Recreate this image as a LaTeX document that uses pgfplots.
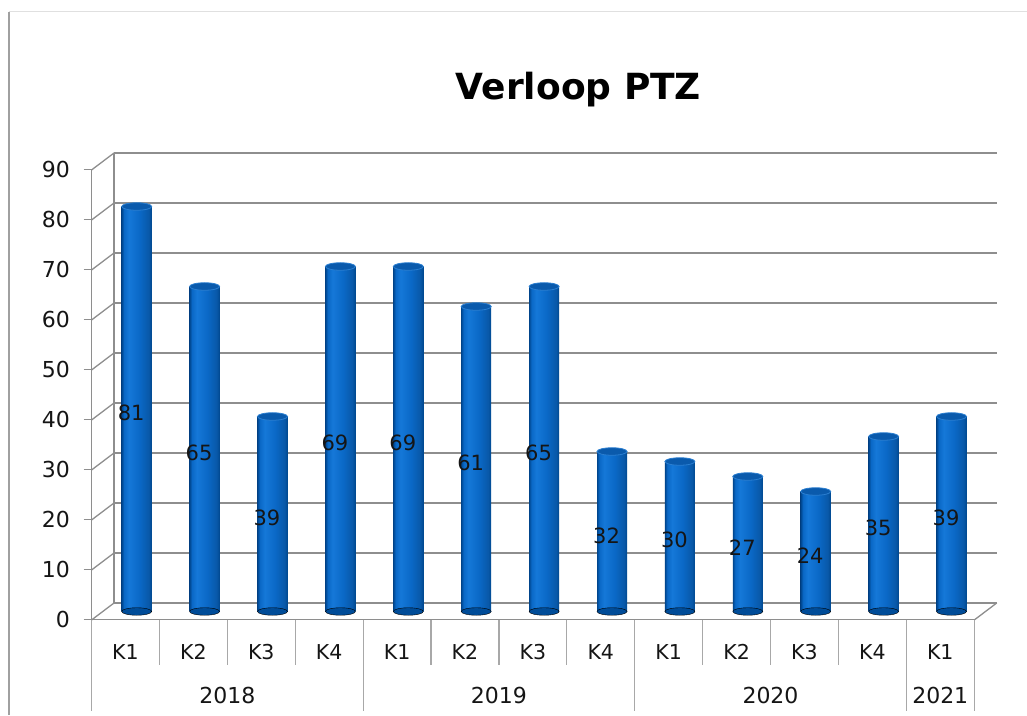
\documentclass[border=0pt]{standalone}
\usepackage{fontspec}
\setmainfont{DejaVu Sans}
\usepackage{pgfplots}
\pgfplotsset{compat=1.18}
\definecolor{gridc}{HTML}{8E8E8E}
\definecolor{sepc}{HTML}{A8A8A8}
\definecolor{bordL}{HTML}{A0A0A0}
\definecolor{bordT}{HTML}{E0E0E0}
\definecolor{bdark}{HTML}{00468E}
\definecolor{blight}{HTML}{1578D8}
\definecolor{bmid}{HTML}{0A68C6}
\definecolor{bdeep}{HTML}{00488F}
\definecolor{btop}{HTML}{0A5AAC}
\definecolor{brim}{HTML}{2A7ED0}
\definecolor{bbot}{HTML}{004C98}
\definecolor{lab}{HTML}{151515}
\pgfdeclarehorizontalshading{cyl}{100bp}{color(0bp)=(bdark); color(25bp)=(bdark); color(29bp)=(bmid); color(37bp)=(blight); color(55bp)=(bmid); color(70bp)=(bmid!85!black); color(75bp)=(bdeep); color(100bp)=(bdeep)}
\pgfplotsset{cmn/.style={scale only axis, width=882.7pt, height=450pt,
  xmin=-0.5, xmax=12.5, ymin=0, ymax=90, anchor=south west, clip=false},
  cylbar/.style={ybar, bar width=30pt, draw=none, shade, shading=cyl}}
\begin{document}
\begin{tikzpicture}[x=1pt,y=1pt]
\path[use as bounding box] (0,0) rectangle (1027,715);
\draw[color=bordL, line width=1.2pt] (9,0) -- (9,703);
\draw[color=bordT, line width=1pt] (9,703) -- (1027,703);
\node[font=\bfseries\fontsize{36}{36}\selectfont, anchor=base] at (578.5,615) {Verloop PTZ};

% back wall
\begin{axis}[cmn, at={(114pt,112pt)}, axis lines=left,
  axis line style={-, draw=gridc, line width=1.3pt},
  xtick=\empty, ytick={10,20,...,90}, yticklabels={}, major tick length=0pt,
  ymajorgrids, grid style={draw=gridc, line width=1.3pt}]
\addplot[gridc, line width=1.3pt, unbounded coords=jump] coordinates {
 (-0.831,-3.4) (-0.5,0) (nan,nan)
 (-0.831,6.6) (-0.5,10) (nan,nan)
 (-0.831,16.6) (-0.5,20) (nan,nan)
 (-0.831,26.6) (-0.5,30) (nan,nan)
 (-0.831,36.6) (-0.5,40) (nan,nan)
 (-0.831,46.6) (-0.5,50) (nan,nan)
 (-0.831,56.6) (-0.5,60) (nan,nan)
 (-0.831,66.6) (-0.5,70) (nan,nan)
 (-0.831,76.6) (-0.5,80) (nan,nan)
 (-0.831,86.6) (-0.5,90) (nan,nan)
 (12.169,-3.4) (12.5,0)};
\end{axis}

% front plane
\begin{axis}[cmn, at={(91.5pt,95.5pt)}, axis lines=left,
  axis line style={-, draw=gridc, line width=1.3pt},
  ytick={0,10,...,90}, xtick={0,...,12},
  xticklabels={K1,K2,K3,K4,K1,K2,K3,K4,K1,K2,K3,K4,K1},
  xtick style={draw=none}, ytick style={draw=gridc, line width=1.3pt},
  tick align=outside, major tick length=8pt,
  /pgf/number format/assume math mode=true,
  yticklabel style={font=\fontsize{22}{22}\selectfont, color=lab, xshift=-10pt},
  xticklabel style={font=\fontsize{20.5}{20.5}\selectfont, color=lab, anchor=center,
    text height=15pt, text depth=0pt, yshift=-24pt}]
\addplot[sepc, line width=1.2pt, unbounded coords=jump] coordinates {
 (0.5,0) (0.5,-9) (nan,nan) (1.5,0) (1.5,-9) (nan,nan) (2.5,0) (2.5,-9) (nan,nan)
 (4.5,0) (4.5,-9) (nan,nan) (5.5,0) (5.5,-9) (nan,nan) (6.5,0) (6.5,-9) (nan,nan)
 (8.5,0) (8.5,-9) (nan,nan) (9.5,0) (9.5,-9) (nan,nan) (10.5,0) (10.5,-9) (nan,nan)
 (-0.5,0) (-0.5,-18.2) (nan,nan) (3.5,0) (3.5,-18.2) (nan,nan) (7.5,0) (7.5,-18.2) (nan,nan)
 (11.5,0) (11.5,-18.2) (nan,nan) (12.5,0) (12.5,-18.2)};
\node[font=\fontsize{22}{22}\selectfont, color=lab] at (axis cs:1.5,-15.1) {2018};
\node[font=\fontsize{22}{22}\selectfont, color=lab] at (axis cs:5.5,-15.1) {2019};
\node[font=\fontsize{22}{22}\selectfont, color=lab] at (axis cs:9.5,-15.1) {2020};
\node[font=\fontsize{22}{22}\selectfont, color=lab] at (axis cs:12,-15.1) {2021};
\end{axis}

% bars (middle plane)
\begin{axis}[cmn, at={(102.75pt,103.5pt)}, hide axis]
\addplot[only marks, mark=*, mark size=15pt, mark options={yscale=0.25, fill=bbot, draw=none}] coordinates {
 (0,0) (1,0) (2,0) (3,0) (4,0) (5,0) (6,0) (7,0) (8,0) (9,0) (10,0) (11,0) (12,0)};
\addplot[cylbar] coordinates {(0,81)};
\addplot[cylbar] coordinates {(1,65)};
\addplot[cylbar] coordinates {(2,39)};
\addplot[cylbar] coordinates {(3,69)};
\addplot[cylbar] coordinates {(4,69)};
\addplot[cylbar] coordinates {(5,61)};
\addplot[cylbar] coordinates {(6,65)};
\addplot[cylbar] coordinates {(7,32)};
\addplot[cylbar] coordinates {(8,30)};
\addplot[cylbar] coordinates {(9,27)};
\addplot[cylbar] coordinates {(10,24)};
\addplot[cylbar] coordinates {(11,35)};
\addplot[cylbar] coordinates {(12,39)};
\addplot[only marks, mark=*, mark size=15pt, mark options={yscale=0.25, fill=btop, draw=brim, line width=0.8pt}] coordinates {
 (0,81) (1,65) (2,39) (3,69) (4,69) (5,61) (6,65) (7,32) (8,30) (9,27) (10,24) (11,35) (12,39)};
\addplot[draw=none, mark=none, nodes near coords, point meta=explicit symbolic,
  every node near coord/.style={anchor=center, text height=15pt, text depth=0pt, xshift=-5.5pt, yshift=-4pt, color=lab, font=\fontsize{21}{21}\selectfont}] coordinates {
 (0,40.5)[81] (1,32.5)[65] (2,19.5)[39] (3,34.5)[69] (4,34.5)[69] (5,30.5)[61] (6,32.5)[65]
 (7,16)[32] (8,15)[30] (9,13.5)[27] (10,12)[24] (11,17.5)[35] (12,19.5)[39]};
\end{axis}
\end{tikzpicture}
\end{document}
